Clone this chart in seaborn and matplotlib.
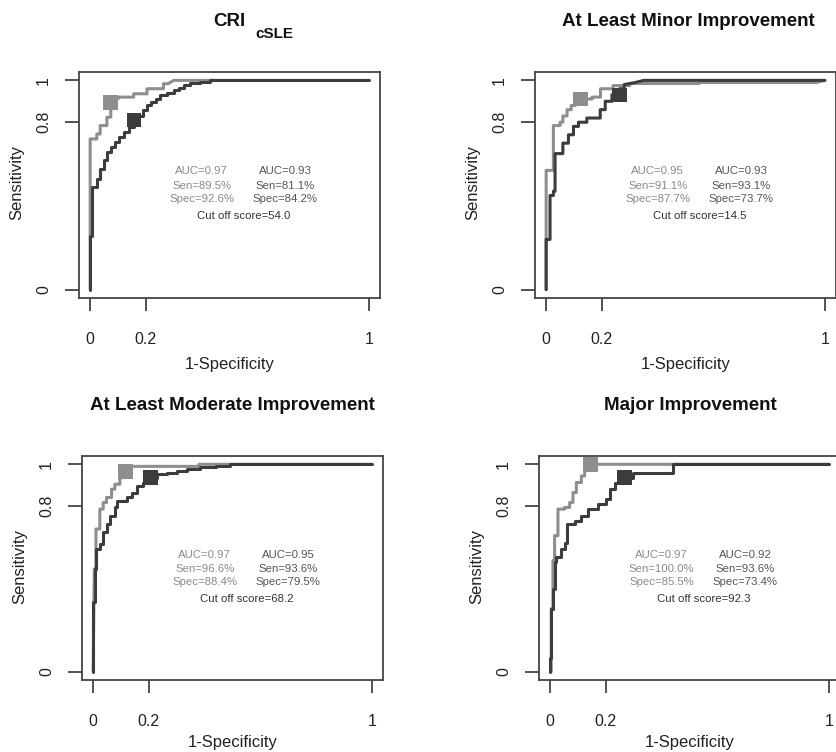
import matplotlib
matplotlib.use("Agg")
import matplotlib.pyplot as plt
import seaborn as sns
import pandas as pd

# ---------------- data ----------------
titles = ["CRI", "At Least Minor Improvement", "At Least Moderate Improvement", "Major Improvement"]
title_sub = "cSLE"

p1_light_fpr = [0, 0, 0.024, 0.024, 0.036, 0.036, 0.06, 0.06, 0.074, 0.074, 0.09, 0.09, 0.10, 0.10, 0.156, 0.156, 0.204, 0.204, 0.263, 0.263, 0.28, 0.30, 1.0]
p1_light_tpr = [0, 0.72, 0.72, 0.744, 0.744, 0.784, 0.784, 0.824, 0.824, 0.895, 0.895, 0.912, 0.912, 0.92, 0.92, 0.936, 0.936, 0.96, 0.96, 0.984, 0.984, 1.0, 1.0]
p1_dark_fpr = [0, 0, 0.006, 0.006, 0.024, 0.024, 0.036, 0.036, 0.05, 0.05, 0.06, 0.06, 0.075, 0.075, 0.09, 0.09, 0.105, 0.105, 0.12, 0.12, 0.138, 0.138, 0.158, 0.158, 0.17, 0.17, 0.19, 0.19, 0.205, 0.205, 0.22, 0.22, 0.235, 0.235, 0.25, 0.25, 0.275, 0.275, 0.30, 0.30, 0.32, 0.32, 0.335, 0.335, 0.36, 0.36, 0.395, 0.395, 0.43, 0.43, 1.0]
p1_dark_tpr = [0, 0.256, 0.256, 0.49, 0.49, 0.53, 0.53, 0.576, 0.576, 0.62, 0.62, 0.656, 0.656, 0.68, 0.68, 0.704, 0.704, 0.73, 0.73, 0.752, 0.752, 0.776, 0.776, 0.811, 0.811, 0.83, 0.83, 0.86, 0.86, 0.88, 0.88, 0.896, 0.896, 0.912, 0.912, 0.928, 0.928, 0.94, 0.94, 0.952, 0.952, 0.964, 0.964, 0.976, 0.976, 0.988, 0.988, 0.994, 0.994, 1.0, 1.0]

p2_light_fpr = [0, 0, 0.026, 0.026, 0.05, 0.05, 0.06, 0.06, 0.075, 0.075, 0.09, 0.09, 0.105, 0.105, 0.123, 0.123, 0.165, 0.165, 0.195, 0.195, 0.24, 0.24, 0.30, 0.30, 0.55, 0.55, 0.97, 1.0]
p2_light_tpr = [0, 0.57, 0.57, 0.784, 0.784, 0.80, 0.80, 0.83, 0.83, 0.86, 0.86, 0.88, 0.88, 0.896, 0.896, 0.911, 0.911, 0.92, 0.92, 0.96, 0.96, 0.975, 0.975, 0.985, 0.985, 0.99, 0.99, 1.0]
p2_dark_fpr = [0, 0, 0.014, 0.014, 0.026, 0.026, 0.032, 0.032, 0.06, 0.06, 0.08, 0.08, 0.098, 0.098, 0.116, 0.116, 0.146, 0.146, 0.194, 0.194, 0.212, 0.212, 0.236, 0.236, 0.263, 0.263, 0.28, 0.28, 0.32, 0.35, 1.0]
p2_dark_tpr = [0, 0.24, 0.24, 0.45, 0.45, 0.47, 0.47, 0.65, 0.65, 0.70, 0.70, 0.74, 0.74, 0.78, 0.78, 0.80, 0.80, 0.82, 0.82, 0.86, 0.86, 0.90, 0.90, 0.931, 0.931, 0.96, 0.96, 0.98, 0.99, 1.0, 1.0]

p3_light_fpr = [0, 0.004, 0.01, 0.01, 0.024, 0.024, 0.036, 0.036, 0.048, 0.048, 0.066, 0.066, 0.078, 0.078, 0.096, 0.096, 0.116, 0.116, 0.13, 0.13, 0.38, 0.38, 1.0]
p3_light_tpr = [0, 0.496, 0.496, 0.688, 0.688, 0.784, 0.784, 0.816, 0.816, 0.84, 0.84, 0.88, 0.88, 0.904, 0.904, 0.936, 0.936, 0.966, 0.966, 0.99, 0.99, 1.0, 1.0]
p3_dark_fpr = [0, 0, 0.006, 0.006, 0.012, 0.012, 0.024, 0.024, 0.036, 0.036, 0.048, 0.048, 0.06, 0.06, 0.078, 0.078, 0.084, 0.084, 0.12, 0.12, 0.138, 0.138, 0.156, 0.156, 0.18, 0.18, 0.205, 0.205, 0.228, 0.228, 0.265, 0.265, 0.30, 0.30, 0.336, 0.336, 0.384, 0.384, 0.44, 0.44, 0.49, 0.49, 1.0]
p3_dark_tpr = [0, 0.336, 0.336, 0.496, 0.496, 0.592, 0.592, 0.616, 0.616, 0.672, 0.672, 0.712, 0.712, 0.752, 0.752, 0.792, 0.792, 0.824, 0.824, 0.84, 0.84, 0.864, 0.864, 0.896, 0.896, 0.912, 0.912, 0.936, 0.936, 0.952, 0.952, 0.96, 0.96, 0.968, 0.968, 0.976, 0.976, 0.987, 0.987, 0.994, 0.994, 1.0, 1.0]

p4_light_fpr = [0.004, 0.004, 0.01, 0.01, 0.016, 0.016, 0.028, 0.028, 0.052, 0.052, 0.07, 0.07, 0.082, 0.082, 0.094, 0.094, 0.112, 0.112, 0.124, 0.124, 0.142, 0.145, 1.0]
p4_light_tpr = [0, 0.304, 0.304, 0.536, 0.536, 0.656, 0.656, 0.784, 0.784, 0.792, 0.792, 0.816, 0.816, 0.864, 0.864, 0.912, 0.912, 0.944, 0.944, 0.976, 0.976, 1.0, 1.0]
p4_dark_fpr = [0, 0, 0.004, 0.004, 0.01, 0.01, 0.016, 0.016, 0.022, 0.022, 0.04, 0.04, 0.052, 0.052, 0.06, 0.06, 0.088, 0.088, 0.112, 0.112, 0.136, 0.136, 0.172, 0.172, 0.202, 0.202, 0.214, 0.214, 0.232, 0.232, 0.266, 0.266, 0.298, 0.298, 0.442, 0.442, 1.0]
p4_dark_tpr = [0, 0.064, 0.064, 0.304, 0.304, 0.40, 0.40, 0.528, 0.528, 0.552, 0.552, 0.592, 0.592, 0.62, 0.62, 0.712, 0.712, 0.728, 0.728, 0.752, 0.752, 0.784, 0.784, 0.808, 0.808, 0.832, 0.832, 0.88, 0.88, 0.912, 0.912, 0.936, 0.936, 0.96, 0.96, 1.0, 1.0]

# cut-off points (1-specificity, sensitivity)
cut_light_fpr = [0.074, 0.123, 0.116, 0.145]
cut_light_tpr = [0.895, 0.911, 0.966, 1.000]
cut_dark_fpr = [0.158, 0.263, 0.205, 0.266]
cut_dark_tpr = [0.811, 0.931, 0.936, 0.936]

auc_light = ["0.97", "0.95", "0.97", "0.97"]
sen_light = ["89.5%", "91.1%", "96.6%", "100.0%"]
spec_light = ["92.6%", "87.7%", "88.4%", "85.5%"]
auc_dark = ["0.93", "0.93", "0.95", "0.92"]
sen_dark = ["81.1%", "93.1%", "93.6%", "93.6%"]
spec_dark = ["84.2%", "73.7%", "79.5%", "73.4%"]
cutoff = ["54.0", "14.5", "68.2", "92.3"]

x_ticks = [0, 0.2, 1]
x_ticklabels = ["0", "0.2", "1"]
y_ticks = [0, 0.8, 1]
y_ticklabels = ["0", "0.8", "1"]

light_curves = [(p1_light_fpr, p1_light_tpr), (p2_light_fpr, p2_light_tpr),
                (p3_light_fpr, p3_light_tpr), (p4_light_fpr, p4_light_tpr)]
dark_curves = [(p1_dark_fpr, p1_dark_tpr), (p2_dark_fpr, p2_dark_tpr),
               (p3_dark_fpr, p3_dark_tpr), (p4_dark_fpr, p4_dark_tpr)]

# ---------------- style ----------------
sns.set_theme(style="white")
plt.rcParams["font.family"] = ["Liberation Sans", "DejaVu Sans"]

W, H = 836, 752
fig = plt.figure(figsize=(W / 100, H / 100), dpi=100)
fig.patch.set_facecolor("white")

LIGHT = "#8e8e8e"
DARK = "#3c3c3c"
AXC = "#444444"

# axes boxes in pixels: left, right, top, bottom
boxes = [(79, 380, 72, 298), (535, 836, 72, 298), (82, 383, 456, 680), (539, 840, 456, 680)]


def fx(px):
    return px / W


def fy(py):
    return 1 - py / H


for i, (l, r, t, b) in enumerate(boxes):
    ax = fig.add_axes([fx(l), fy(b), (r - l) / W, (b - t) / H])
    ax.set_facecolor("white")
    ax.set_xlim(-0.04, 1.04)
    ax.set_ylim(-0.04, 1.04)
    lf, lt = light_curves[i]
    df_l = pd.DataFrame({"fpr": lf, "tpr": lt})
    sns.lineplot(data=df_l, x="fpr", y="tpr", sort=False, estimator=None, ax=ax,
                 color=LIGHT, linewidth=2.2, clip_on=False)
    dfp, dtp = dark_curves[i]
    df_d = pd.DataFrame({"fpr": dfp, "tpr": dtp})
    sns.lineplot(data=df_d, x="fpr", y="tpr", sort=False, estimator=None, ax=ax,
                 color=DARK, linewidth=2.2, clip_on=False)
    sns.scatterplot(x=[cut_light_fpr[i]], y=[cut_light_tpr[i]], ax=ax, marker="s",
                    s=110, color=LIGHT, edgecolor="none", clip_on=False, zorder=4)
    sns.scatterplot(x=[cut_dark_fpr[i]], y=[cut_dark_tpr[i]], ax=ax, marker="s",
                    s=110, color=DARK, edgecolor="none", clip_on=False, zorder=4)

    for sp in ax.spines.values():
        sp.set_visible(True)
        sp.set_color(AXC)
        sp.set_linewidth(1.3)
    ax.set_xticks(x_ticks)
    ax.set_xticklabels(x_ticklabels)
    ax.set_yticks(y_ticks)
    ax.set_yticklabels(y_ticklabels, rotation=90, va="center")
    ax.tick_params(axis="x", direction="out", length=9.5, width=1.3, color=AXC,
                   pad=15, labelsize=11.5, labelcolor="#222222", bottom=True)
    ax.tick_params(axis="y", direction="out", length=10, width=1.3, color=AXC,
                   pad=10, labelsize=11.5, labelcolor="#222222", left=True)
    ax.set_xlabel("")
    ax.set_ylabel("")
    ax.grid(False)

    # annotation text
    fs = 8.2
    ax.text(0.40, 0.565, "AUC=" + auc_light[i], color="#8a8a8a", fontsize=fs, ha="center", va="center")
    ax.text(0.40, 0.497, "Sen=" + sen_light[i], color="#8a8a8a", fontsize=fs, ha="center", va="center")
    ax.text(0.40, 0.432, "Spec=" + spec_light[i], color="#8a8a8a", fontsize=fs, ha="center", va="center")
    ax.text(0.70, 0.565, "AUC=" + auc_dark[i], color="#555555", fontsize=fs, ha="center", va="center")
    ax.text(0.70, 0.497, "Sen=" + sen_dark[i], color="#555555", fontsize=fs, ha="center", va="center")
    ax.text(0.70, 0.432, "Spec=" + spec_dark[i], color="#555555", fontsize=fs, ha="center", va="center")
    ax.text(0.55, 0.35, "Cut off score=" + cutoff[i], color="#333333", fontsize=fs, ha="center", va="center")

    # axis labels
    xc = (l + r) / 2
    xlab_y = 365 if i < 2 else 743
    fig.text(fx(xc), fy(xlab_y), "1-Specificity", fontsize=12, color="#222222", ha="center", va="center")
    ylab_x = l - 62
    fig.text(fx(ylab_x), fy((t + b) / 2 - 2), "Sensitivity", fontsize=12, color="#222222",
             ha="center", va="center", rotation=90)

# titles
fig.text(fx(229), fy(22), titles[0], fontsize=13.5, fontweight="bold", color="#111111", ha="center", va="center")
fig.text(fx(274), fy(34), title_sub, fontsize=11, fontweight="bold", color="#111111", ha="center", va="center")
fig.text(fx(688), fy(22), titles[1], fontsize=13.5, fontweight="bold", color="#111111", ha="center", va="center")
fig.text(fx(232), fy(405), titles[2], fontsize=13.5, fontweight="bold", color="#111111", ha="center", va="center")
fig.text(fx(690), fy(405), titles[3], fontsize=13.5, fontweight="bold", color="#111111", ha="center", va="center")

fig.savefig("out.png", dpi=100, facecolor="white")
